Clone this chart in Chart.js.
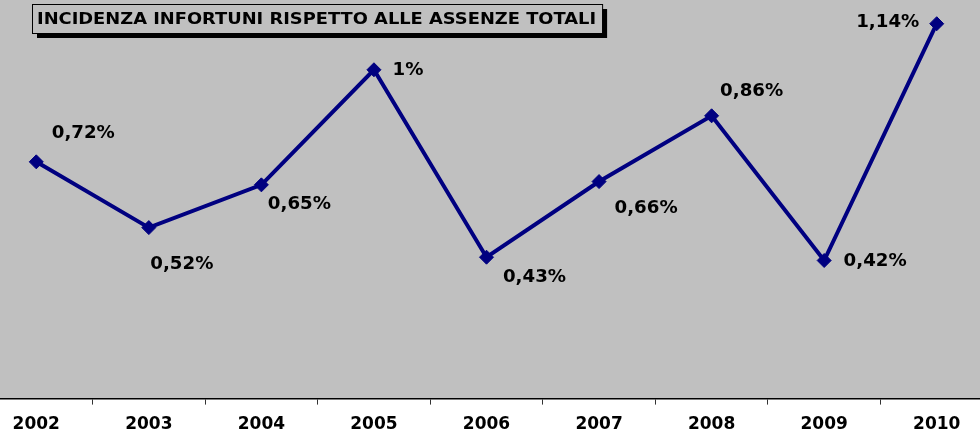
<!DOCTYPE html>
<html>
<head>
<meta charset="utf-8">
<title>Incidenza infortuni</title>
<script src="https://cdn.jsdelivr.net/npm/chart.js@4/dist/chart.umd.min.js"></script>
<style>
  html, body { margin: 0; padding: 0; background: #fff; overflow: hidden; }
  #wrap { position: relative; width: 980px; height: 432px; overflow: hidden; }
  #grafico { position: absolute; left: -20px; top: 0; }
</style>
</head>
<body>
<div id="wrap"><canvas id="grafico" width="1013" height="445"></canvas></div>
<script>
  // dati
  const anni = ['2002', '2003', '2004', '2005', '2006', '2007', '2008', '2009', '2010'];
  const incidenza = [0.72, 0.52, 0.65, 1, 0.43, 0.66, 0.86, 0.42, 1.14];
  const titolo = 'INCIDENZA INFORTUNI RISPETTO ALLE ASSENZE TOTALI';

  // spostamento delle etichette rispetto al punto (px)
  const posEtichette = [
    [47, -28], [33, 37], [38, 20], [34, 1], [48, 20],
    [47, 27], [40, -24], [51, 1], [-49, -1]
  ];

  const fontBold = '"DejaVu Sans", Verdana, sans-serif';
  const SPOSTA = 20; // il canvas parte a sinistra della pagina

  // testo un po' allargato in orizzontale, come il Verdana
  function testoLargo(ctx, testo, x, y, fattore) {
    ctx.save();
    ctx.translate(x, y);
    ctx.scale(fattore, 1);
    ctx.fillText(testo, 0, 0);
    ctx.restore();
  }

  const sfondoGrigio = {
    id: 'sfondoGrigio',
    beforeDraw(chart) {
      const { ctx, chartArea } = chart;
      ctx.save();
      ctx.fillStyle = '#c0c0c0';
      ctx.fillRect(0, 0, chart.width, chartArea.bottom);
      ctx.restore();
    }
  };

  const etichette = {
    id: 'etichette',
    afterDatasetsDraw(chart) {
      const { ctx } = chart;
      const punti = chart.getDatasetMeta(0).data;
      ctx.save();
      ctx.font = 'bold 17px ' + fontBold;
      ctx.fillStyle = '#000';
      ctx.textAlign = 'center';
      ctx.textBaseline = 'middle';
      punti.forEach((p, i) => {
        const testo = String(incidenza[i]).replace('.', ',') + '%';
        testoLargo(ctx, testo, p.x + posEtichette[i][0], p.y + posEtichette[i][1], 1.07);
      });
      ctx.restore();
    }
  };

  const riquadroTitolo = {
    id: 'riquadroTitolo',
    afterDraw(chart) {
      const { ctx } = chart;
      const x = 32 + SPOSTA, y = 4;
      const largo = 1.115;
      ctx.save();
      ctx.font = 'bold 16px ' + fontBold;
      const w = ctx.measureText(titolo).width * largo + 11;
      const h = 29;
      ctx.fillStyle = '#000';
      ctx.fillRect(x + 5, y + 5, w, h);
      ctx.fillStyle = '#c0c0c0';
      ctx.fillRect(x, y, w, h);
      ctx.strokeStyle = '#000';
      ctx.lineWidth = 1;
      ctx.strokeRect(x + 0.5, y + 0.5, w, h);
      ctx.fillStyle = '#000';
      ctx.textBaseline = 'middle';
      testoLargo(ctx, titolo, x + 5, y + h / 2 + 1, largo);
      ctx.restore();
    }
  };

  new Chart(document.getElementById('grafico'), {
    type: 'line',
    data: {
      labels: anni,
      datasets: [{
        data: incidenza,
        borderColor: '#000080',
        backgroundColor: '#000080',
        borderWidth: 4,
        pointStyle: 'rectRot',
        pointRadius: 7,
        pointBorderWidth: 1,
        pointBackgroundColor: '#000080',
        pointBorderColor: '#000080',
        tension: 0
      }]
    },
    options: {
      responsive: false,
      animation: false,
      layout: { autoPadding: false, padding: { top: 4, left: 0, right: 0, bottom: 0 } },
      plugins: {
        legend: { display: false },
        tooltip: { enabled: false }
      },
      scales: {
        x: {
          offset: true,
          grid: {
            offset: true,
            drawOnChartArea: false,
            drawTicks: true,
            tickLength: 6,
            color: '#333'
          },
          border: { display: true, color: '#000', width: 1.5 },
          ticks: {
            color: '#000',
            padding: 10,
            font: { family: fontBold, size: 17, weight: 'bold' }
          }
        },
        y: {
          display: false,
          min: 0,
          max: 1.2
        }
      }
    },
    plugins: [sfondoGrigio, etichette, riquadroTitolo]
  });
</script>
</body>
</html>
